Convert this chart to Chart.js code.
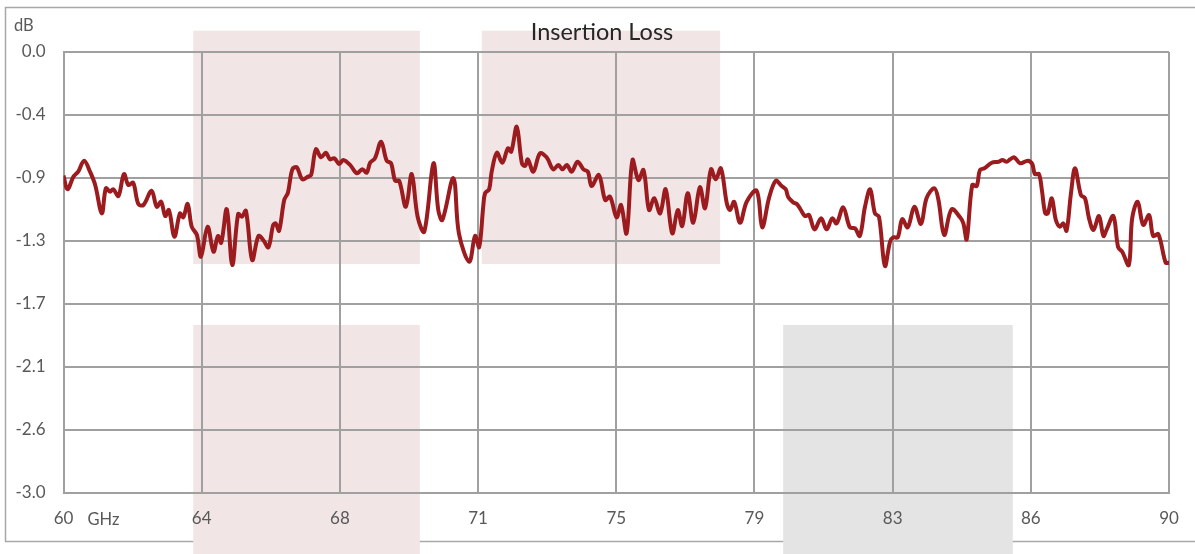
<!DOCTYPE html>
<html>
<head>
<meta charset="utf-8">
<script src="https://cdn.jsdelivr.net/npm/chart.js@4.4.0/dist/chart.umd.min.js"></script>
<style>
  html, body { margin: 0; padding: 0; background: #ffffff; }
  #wrap { position: relative; width: 1195px; height: 554px; }
</style>
</head>
<body>
<div id="wrap"><canvas id="c" width="1195" height="554"></canvas></div>
<script>
const chartTitle = 'Insertion Loss';
const yUnit = 'dB';
const xUnit = 'GHz';

const xTickValues = [60, 63.75, 67.5, 71.25, 75, 78.75, 82.5, 86.25, 90];
const xTickLabels = ['60', '64', '68', '71', '75', '79', '83', '86', '90'];
const yTickValues = [0, -0.4286, -0.8571, -1.2857, -1.7143, -2.1429, -2.5714, -3.0];
const yTickLabels = ['0.0', '-0.4', '-0.9', '-1.3', '-1.7', '-2.1', '-2.6', '-3.0'];

const freqGHz = [
  60.00, 60.11, 60.27, 60.40, 60.56, 60.72, 60.86, 61.04, 61.15, 61.26,
  61.35, 61.49, 61.64, 61.76, 61.89, 62.03, 62.17, 62.39, 62.53, 62.65,
  62.76, 62.86, 63.01, 63.16, 63.25, 63.37, 63.48, 63.62, 63.73, 63.91,
  64.07, 64.19, 64.28, 64.43, 64.58, 64.74, 64.84, 64.95, 65.12, 65.29,
  65.42, 65.56, 65.69, 65.76, 65.85, 65.99, 66.09, 66.21, 66.33, 66.48,
  66.64, 66.72, 66.85, 66.99, 67.12, 67.23, 67.35, 67.48, 67.59, 67.78,
  67.96, 68.11, 68.23, 68.32, 68.45, 68.62, 68.77, 68.89, 69.00, 69.11,
  69.29, 69.45, 69.61, 69.79, 70.04, 70.17, 70.28, 70.58, 70.73, 71.01,
  71.17, 71.28, 71.39, 71.44, 71.55, 71.62, 71.76, 71.91, 72.06, 72.15,
  72.30, 72.44, 72.53, 72.60, 72.75, 72.93, 73.11, 73.29, 73.43, 73.54,
  73.66, 73.79, 73.95, 74.11, 74.23, 74.33, 74.53, 74.70, 74.83, 75.01,
  75.13, 75.28, 75.44, 75.60, 75.74, 75.89, 76.03, 76.19, 76.34, 76.52,
  76.67, 76.79, 76.94, 77.09, 77.27, 77.41, 77.57, 77.70, 77.84, 78.00,
  78.09, 78.20, 78.36, 78.54, 78.81, 78.96, 79.15, 79.33, 79.49, 79.60,
  79.67, 79.81, 79.90, 80.01, 80.12, 80.23, 80.38, 80.56, 80.71, 80.86,
  80.98, 81.16, 81.34, 81.48, 81.61, 81.75, 81.89, 82.02, 82.13, 82.29,
  82.43, 82.52, 82.64, 82.76, 82.91, 83.09, 83.27, 83.42, 83.63, 83.74,
  83.90, 84.10, 84.33, 84.42, 84.51, 84.66, 84.78, 84.87, 84.99, 85.19,
  85.37, 85.48, 85.60, 85.69, 85.80, 85.96, 86.17, 86.29, 86.36, 86.47,
  86.55, 86.64, 86.71, 86.82, 86.93, 87.04, 87.13, 87.22, 87.34, 87.45,
  87.61, 87.72, 87.83, 87.95, 88.10, 88.22, 88.31, 88.49, 88.62, 88.73,
  88.91, 89.00, 89.15, 89.30, 89.46, 89.57, 89.71, 89.91, 90.00
];

const lossDB = [
  -0.842, -0.935, -0.849, -0.815, -0.740, -0.815, -0.906, -1.099, -0.928, -0.951,
  -0.935, -0.981, -0.831, -0.906, -0.890, -1.035, -1.042, -0.945, -1.054, -1.020,
  -1.117, -1.076, -1.258, -1.099, -1.126, -1.035, -1.190, -1.246, -1.394, -1.190,
  -1.360, -1.253, -1.299, -1.071, -1.451, -1.103, -1.122, -1.081, -1.417, -1.253,
  -1.280, -1.330, -1.178, -1.167, -1.217, -1.008, -0.958, -0.799, -0.785, -0.867,
  -0.849, -0.838, -0.663, -0.717, -0.686, -0.731, -0.724, -0.763, -0.736, -0.770,
  -0.826, -0.799, -0.822, -0.754, -0.724, -0.611, -0.740, -0.758, -0.877, -0.877,
  -1.054, -0.831, -1.122, -1.224, -0.758, -1.076, -1.144, -0.860, -1.235, -1.428,
  -1.253, -1.330, -1.054, -0.962, -0.935, -0.815, -0.686, -0.754, -0.656, -0.679,
  -0.509, -0.758, -0.776, -0.731, -0.815, -0.690, -0.717, -0.799, -0.770, -0.799,
  -0.770, -0.815, -0.747, -0.799, -0.815, -0.913, -0.838, -1.008, -0.985, -1.126,
  -1.042, -1.235, -0.736, -0.872, -0.804, -1.076, -0.996, -1.099, -0.935, -1.235,
  -1.076, -1.185, -0.962, -1.163, -0.921, -1.064, -0.799, -0.867, -0.792, -1.030,
  -1.076, -1.020, -1.163, -1.020, -0.945, -1.194, -0.990, -0.877, -0.913, -0.935,
  -0.990, -1.026, -1.035, -1.076, -1.117, -1.110, -1.208, -1.133, -1.208, -1.133,
  -1.167, -1.058, -1.194, -1.201, -1.253, -1.054, -0.935, -1.099, -1.122, -1.457,
  -1.292, -1.262, -1.262, -1.139, -1.194, -1.054, -1.171, -0.996, -0.928, -1.003,
  -1.246, -1.071, -1.126, -1.167, -1.276, -0.906, -0.913, -0.804, -0.792, -0.754,
  -0.747, -0.736, -0.747, -0.731, -0.717, -0.758, -0.740, -0.763, -0.831, -0.831,
  -0.940, -1.099, -1.099, -0.996, -1.144, -1.190, -1.167, -1.217, -0.962, -0.792,
  -0.974, -0.996, -1.133, -1.212, -1.117, -1.253, -1.208, -1.117, -1.330, -1.360,
  -1.451, -1.133, -1.020, -1.178, -1.110, -1.253, -1.240, -1.435, -1.435
];

// shaded bands in data units: [xStart, xEnd, yTop, yBottom]
const bandRanges = [
  [63.52, 69.67, 0.145, -1.444],
  [63.52, 69.67, -1.859, -3.45],
  [71.35, 77.82, 0.145, -1.444],
  [79.53, 85.76, -1.859, -3.45]
];
const bandColors = ['#f2e5e5', '#f2e5e5', '#f2e5e5', '#e4e4e4'];

const FONT = 'Lato, "Open Sans", sans-serif';
const GRID = '#a0a0a0';

const backgroundPlugin = {
  id: 'bg',
  beforeDraw(chart) {
    const ctx = chart.ctx;
    const xs = chart.scales.x, ys = chart.scales.y;
    ctx.save();
    ctx.fillStyle = '#ffffff';
    ctx.fillRect(0, 0, chart.width, chart.height);
    ctx.strokeStyle = '#a8a8a8';
    ctx.lineWidth = 1.5;
    ctx.strokeRect(5.5, 7.5, 1200, 534);
    bandRanges.forEach((b, i) => {
      const x0 = xs.getPixelForValue(b[0]);
      const x1 = xs.getPixelForValue(b[1]);
      const y0 = ys.getPixelForValue(b[2]);
      const y1 = ys.getPixelForValue(b[3]);
      ctx.fillStyle = bandColors[i];
      ctx.fillRect(x0, y0, x1 - x0, y1 - y0);
    });
    ctx.restore();
  },
  afterDraw(chart) {
    const ctx = chart.ctx;
    const xs = chart.scales.x;
    ctx.save();
    ctx.textBaseline = 'middle';
    ctx.fillStyle = '#262626';
    ctx.font = '23.5px ' + FONT;
    ctx.textAlign = 'center';
    ctx.fillText(chartTitle, 602, 32);
    ctx.fillStyle = '#595959';
    ctx.font = '16.5px ' + FONT;
    ctx.textAlign = 'left';
    ctx.fillText(yUnit, 14, 26);
    ctx.fillText(xUnit, xs.getPixelForValue(60) + 24, 520);
    ctx.restore();
  }
};

new Chart(document.getElementById('c'), {
  type: 'line',
  data: {
    datasets: [{
      data: freqGHz.map((f, i) => ({ x: f, y: lossDB[i] })),
      borderColor: '#9b1b1f',
      borderWidth: 4,
      pointRadius: 0,
      tension: 0.35,
      fill: false
    }]
  },
  options: {
    responsive: false,
    animation: false,
    devicePixelRatio: 1,
    layout: { padding: { left: 0, right: 26, top: 52, bottom: 0 } },
    plugins: {
      legend: { display: false },
      title: { display: false },
      tooltip: { enabled: false }
    },
    scales: {
      x: {
        type: 'linear',
        min: 60,
        max: 90,
        afterBuildTicks(scale) { scale.ticks = xTickValues.map(v => ({ value: v })); },
        afterFit(scale) { scale.height = 61.5; },
        ticks: {
          autoSkip: false,
          maxRotation: 0,
          padding: 16,
          color: '#595959',
          font: { family: FONT, size: 17 },
          callback: (v, i) => xTickLabels[i]
        },
        grid: { color: GRID, lineWidth: 2, drawTicks: false },
        border: { color: GRID, width: 2 }
      },
      y: {
        type: 'linear',
        min: -3,
        max: 0,
        afterBuildTicks(scale) { scale.ticks = yTickValues.map(v => ({ value: v })); },
        afterFit(scale) { scale.width = 63.5; },
        ticks: {
          autoSkip: false,
          padding: 18,
          color: '#595959',
          font: { family: FONT, size: 17 },
          callback: (v, i) => yTickLabels[i]
        },
        grid: { color: GRID, lineWidth: 2, drawTicks: false },
        border: { color: GRID, width: 2 }
      }
    }
  },
  plugins: [backgroundPlugin]
});
</script>
</body>
</html>
